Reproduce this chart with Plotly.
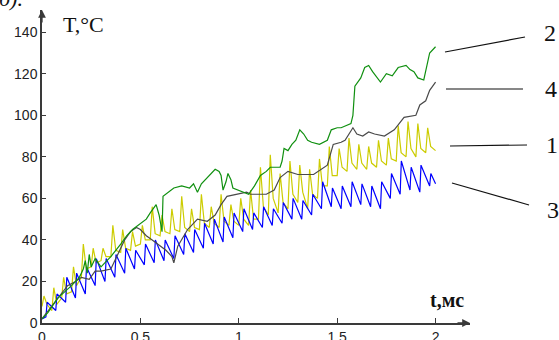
import plotly.graph_objects as go

# ---------------- data ----------------
# series 2 (green)
green_t = [0, 0.03, 0.08, 0.15, 0.19, 0.21, 0.22, 0.23, 0.24, 0.25, 0.27, 0.30, 0.33, 0.35, 0.40,
           0.43, 0.46, 0.50, 0.53, 0.55, 0.58, 0.595, 0.61, 0.615, 0.64, 0.67, 0.71, 0.75, 0.77,
           0.79, 0.81, 0.83, 0.86, 0.88, 0.90, 0.91, 0.92, 0.935, 0.945, 0.96, 0.97, 1.00, 1.03,
           1.05, 1.08, 1.11, 1.14, 1.16, 1.21, 1.22, 1.23, 1.25, 1.27, 1.29, 1.31, 1.33, 1.35,
           1.37, 1.41, 1.43, 1.45, 1.47, 1.50, 1.52, 1.55, 1.57, 1.58, 1.59, 1.62, 1.64, 1.66,
           1.68, 1.72, 1.75, 1.78, 1.81, 1.85, 1.87, 1.89, 1.91, 1.94, 1.96, 1.97, 2.00]
green_T = [2, 5, 12, 18, 22, 26, 30, 24, 33, 27, 31, 27, 30, 32, 38,
           42, 45, 48, 50, 53, 57, 52, 44, 61, 63, 65, 66, 65, 67,
           63, 67, 69, 72, 74, 73, 71, 64, 68, 72, 69, 65, 64, 63,
           62, 66, 71, 73, 75, 75, 78, 84, 83, 86, 88, 93, 91, 88,
           87, 86, 87, 88, 93, 94, 94, 95, 96, 100, 114, 118, 123, 124,
           121, 116, 120, 119, 123, 124, 122, 121, 118, 117, 125, 130, 133]

# series 4 (dark grey)
grey_t = [0, 0.05, 0.10, 0.13, 0.17, 0.20, 0.24, 0.27, 0.30, 0.35, 0.38, 0.42, 0.45, 0.48, 0.50,
          0.53, 0.56, 0.60, 0.63, 0.66, 0.67, 0.69, 0.74, 0.79, 0.84, 0.88, 0.91, 0.94, 0.99,
          1.04, 1.06, 1.14, 1.18, 1.21, 1.25, 1.30, 1.38, 1.43, 1.45, 1.48, 1.52, 1.54, 1.58,
          1.60, 1.63, 1.66, 1.69, 1.74, 1.79, 1.84, 1.90, 1.92, 1.95, 1.97, 2.00]
grey_T = [2, 8, 14, 18, 20, 22, 21, 25, 25, 26, 32, 40, 44, 46, 45,
          42, 40, 37, 35, 32, 29, 37, 45, 50, 49, 52, 57, 61, 62,
          63, 62, 62, 64, 70, 73, 71.5, 71.5, 75, 76, 86, 87, 88, 94,
          91, 90, 92, 91, 90, 93, 99, 100, 105, 107, 112, 116]

# series 1 (yellow): per pulse - start time, base level, peak level, level after the spike
yellow_start = [0.00, 0.05, 0.10, 0.15, 0.20, 0.25, 0.30, 0.35, 0.40, 0.45,
                0.50, 0.55, 0.60, 0.65, 0.70, 0.75, 0.80, 0.85, 0.90, 0.95,
                1.00, 1.05, 1.10, 1.15, 1.20, 1.25, 1.30, 1.35, 1.40, 1.45,
                1.50, 1.55, 1.60, 1.65, 1.70, 1.75, 1.80, 1.85, 1.90, 1.95]
yellow_base = [8, 6, 12, 15, 22, 27, 30, 32, 34, 35,
               38, 40, 42, 43, 44, 44, 45, 46, 46, 47,
               47, 47, 50, 52, 53, 55, 58, 55, 60, 66,
               71, 73, 74, 74, 75, 76, 78, 80, 80, 82]
yellow_peak = [13, 17, 22, 27, 38, 36, 36, 47, 45, 44,
               47, 56, 52, 55, 61, 55, 62, 56, 62, 57,
               60, 64, 75, 81, 72, 78, 76, 74, 79, 85,
               84, 89, 86, 85, 88, 89, 95, 97, 96, 94]
yellow_after = [9, 9, 14, 18, 26, 29, 32, 35, 36, 37,
                40, 43, 44, 45, 46, 46, 48, 48, 49, 49,
                50, 50, 56, 60, 58, 62, 63, 62, 66, 71,
                75, 77, 77, 77, 78, 79, 82, 84, 84, 85]
yellow_end = (2.00, 83)

# series 3 (blue): per pulse - start time, base level, peak level
blue_start = [0.02, 0.07, 0.12, 0.17, 0.22, 0.27, 0.32, 0.37, 0.42, 0.47,
              0.52, 0.57, 0.62, 0.67, 0.72, 0.77, 0.82, 0.87, 0.92, 0.97,
              1.02, 1.07, 1.12, 1.17, 1.22, 1.27, 1.32, 1.37, 1.42, 1.47,
              1.52, 1.57, 1.62, 1.67, 1.72, 1.77, 1.82, 1.87, 1.92, 1.97]
blue_base = [3, 6, 10, 12, 14, 18, 20, 22, 24, 26,
             28, 29, 30, 31, 33, 34, 36, 38, 39, 41,
             44, 45, 46, 47, 48, 50, 50, 52, 55, 56,
             55, 56, 57, 56, 55, 60, 62, 64, 63, 66]
blue_peak = [10, 14, 22, 24, 27, 31, 31, 33, 36, 35,
             38, 40, 40, 42, 43, 45, 48, 50, 51, 53,
             55, 53, 56, 55, 58, 60, 59, 62, 68, 65,
             66, 68, 67, 66, 68, 72, 78, 75, 76, 72]
blue_first = (0.0, 2)
blue_end = (2.00, 67)

x_ticks = [0, 0.5, 1, 1.5, 2]
y_ticks = [0, 20, 40, 60, 80, 100, 120, 140]
series_labels = ["2", "4", "1", "3"]

# ---------------- build polylines ----------------
yx, yy = [], []
for t0, b, p, a in zip(yellow_start, yellow_base, yellow_peak, yellow_after):
    yx += [t0, t0 + 0.01, t0 + 0.025]
    yy += [b, p, a]
yx.append(yellow_end[0]); yy.append(yellow_end[1])

bx, by = [blue_first[0]], [blue_first[1]]
for t0, b, p in zip(blue_start, blue_base, blue_peak):
    bx += [t0, t0 + 0.006]
    by += [b, p]
bx.append(blue_end[0]); by.append(blue_end[1])

fig = go.Figure()
fig.add_trace(go.Scatter(x=yx, y=yy, mode="lines", line=dict(color="#cccc00", width=1.2)))
fig.add_trace(go.Scatter(x=bx, y=by, mode="lines", line=dict(color="#0000ff", width=1.2)))
fig.add_trace(go.Scatter(x=grey_t, y=grey_T, mode="lines", line=dict(color="#4a4a4a", width=1.2)))
fig.add_trace(go.Scatter(x=green_t, y=green_T, mode="lines", line=dict(color="#109010", width=1.2)))

XMAX = 2.175
YMAX = 150.7
axis_col = "#3a3a3a"
fig.update_layout(
    width=559, height=340,
    margin=dict(l=42, r=89, t=10, b=17),
    paper_bgcolor="white", plot_bgcolor="white",
    showlegend=False,
    xaxis=dict(range=[0, XMAX], tickvals=x_ticks, ticktext=[str(v) for v in x_ticks],
               automargin=False,
               showgrid=False, zeroline=False, showline=True, linecolor=axis_col, linewidth=1.5,
               ticks="inside", ticklen=5, tickcolor=axis_col,
               tickfont=dict(family="Liberation Sans", size=14, color="#222")),
    yaxis=dict(range=[0, YMAX], tickvals=y_ticks, showgrid=False, zeroline=False,
               automargin=False,
               showline=True, linecolor=axis_col, linewidth=1.5,
               ticks="inside", ticklen=4, tickcolor=axis_col,
               tickfont=dict(family="Liberation Sans", size=14, color="#222")),
)

# axis arrows
fig.add_annotation(x=XMAX, y=0, xref="x", yref="y", ax=-14, ay=0, axref="pixel", ayref="pixel",
                   text="", showarrow=True, arrowhead=2, arrowsize=1.2, arrowwidth=1.3, arrowcolor=axis_col)
fig.add_annotation(x=0, y=YMAX, xref="x", yref="y", ax=0, ay=14,
                   text="", showarrow=True, arrowhead=2, arrowsize=1.2, arrowwidth=1.3, arrowcolor=axis_col)

# axis titles
fig.add_annotation(x=0.045, y=0.955, xref="paper", yref="paper", xanchor="left", yanchor="middle",
                   text="T,°C", showarrow=False,
                   font=dict(family="Liberation Serif", size=22, color="#111"))
fig.add_annotation(x=0.902, y=0.075, xref="paper", yref="paper", xanchor="left", yanchor="middle",
                   text="<b>t,мс</b>", showarrow=False,
                   font=dict(family="Liberation Serif", size=20, color="#111"))
fig.add_annotation(x=-0.105, y=0.992, xref="paper", yref="paper", xanchor="left", yanchor="bottom",
                   text="<i>б).</i>", showarrow=False,
                   font=dict(family="Liberation Serif", size=22, color="#111"))

# leader lines and series numbers (paper coords)
leaders = [((0.9416, 0.8658), (1.1285, 0.9137)),
           ((0.9439, 0.7476), (1.1238, 0.7476)),
           ((0.9533, 0.5655), (1.1332, 0.5687)),
           ((0.9579, 0.4473), (1.1379, 0.3770))]
label_pos = [(1.187, 0.9265), (1.189, 0.7476), (1.1916, 0.5687), (1.194, 0.361)]
for (p0, p1), (lx, ly), lab in zip(leaders, label_pos, series_labels):
    fig.add_shape(type="line", xref="paper", yref="paper", x0=p0[0], y0=p0[1], x1=p1[0], y1=p1[1],
                  line=dict(color="#111", width=1.2))
    fig.add_annotation(x=lx, y=ly, xref="paper", yref="paper", text=lab, showarrow=False,
                       xanchor="center", yanchor="middle",
                       font=dict(family="Liberation Serif", size=24, color="#111"))

fig.write_html("out.html")
